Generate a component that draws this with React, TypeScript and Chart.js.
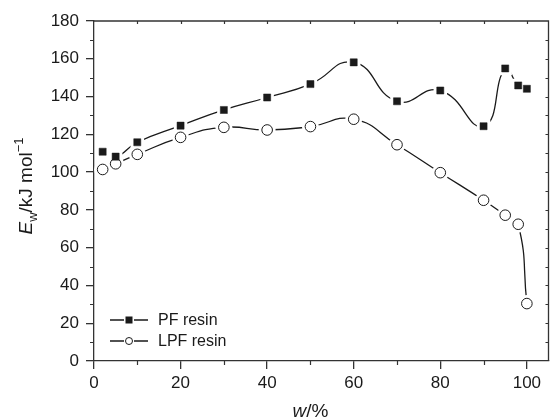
import React, { useEffect, useRef } from "react";
import { Chart, registerables } from "chart.js";

Chart.register(...registerables);

const wValues = [2, 5, 10, 20, 30, 40, 50, 60, 70, 80, 90, 95, 98, 100];
const pfResin = [110.8, 108.2, 115.8, 124.6, 132.9, 139.5, 146.6, 158.1, 137.5, 143.2, 124.3, 154.9, 145.9, 144.1];
const lpfResin = [101.4, 104.4, 109.4, 118.4, 123.7, 122.3, 124.1, 128.0, 114.5, 99.7, 85.1, 77.2, 72.4, 30.4];
const xTicks = [0, 20, 40, 60, 80, 100];
const yTicks = [0, 20, 40, 60, 80, 100, 120, 140, 160, 180];
const seriesNames = ["PF resin", "LPF resin"];

const FONT = "'Liberation Sans', Arial, Helvetica, sans-serif";
const INK = "#1a1a1a";
const AXIS = "#333";

function pts(ys: number[]) {
  return wValues.map((x, i) => ({ x, y: ys[i] }));
}

const decorPlugin = {
  id: "decor",
  afterDraw(chart: any) {
    const ctx = chart.ctx;
    const xs = chart.scales.x;
    const ys = chart.scales.y;
    const a = chart.chartArea;
    ctx.save();
    ctx.strokeStyle = AXIS;
    ctx.lineWidth = 1.3;
    ctx.beginPath();
    ctx.moveTo(a.left, a.top);
    ctx.lineTo(a.right, a.top);
    ctx.lineTo(a.right, a.bottom);
    ctx.stroke();
    ctx.lineWidth = 1.2;
    ctx.beginPath();
    for (let v = 10; v < 180; v += 20) {
      const y = Math.round(ys.getPixelForValue(v)) + 0.5;
      ctx.moveTo(a.left - 4, y);
      ctx.lineTo(a.left, y);
    }
    for (let v = 10; v < 100; v += 20) {
      const x = Math.round(xs.getPixelForValue(v)) + 0.5;
      ctx.moveTo(x, a.bottom);
      ctx.lineTo(x, a.bottom + 4);
    }
    for (let v = 10; v <= 100; v += 10) {
      const x = Math.round(xs.getPixelForValue(v)) + 0.5;
      ctx.moveTo(x, a.top);
      ctx.lineTo(x, a.top + 3);
    }
    for (let v = 10; v < 180; v += 10) {
      const y = Math.round(ys.getPixelForValue(v)) + 0.5;
      ctx.moveTo(a.right, y);
      ctx.lineTo(a.right - 3, y);
    }
    ctx.stroke();

    ctx.fillStyle = INK;
    ctx.textBaseline = "alphabetic";
    ctx.textAlign = "left";
    const parts = [
      { t: "E", f: `italic 19px ${FONT}`, dy: 0 },
      { t: "w", f: `13px ${FONT}`, dy: 5 },
      { t: "/kJ mol", f: `19px ${FONT}`, dy: 0 },
      { t: "\u22121", f: `13px ${FONT}`, dy: -9 },
    ];
    let total = 0;
    for (const p of parts) {
      ctx.font = p.f;
      total += ctx.measureText(p.t).width;
    }
    ctx.translate(32, (a.top + a.bottom) / 2 - 5);
    ctx.rotate(-Math.PI / 2);
    let cx = -total / 2;
    for (const p of parts) {
      ctx.font = p.f;
      ctx.fillText(p.t, cx, p.dy);
      cx += ctx.measureText(p.t).width;
    }
    ctx.setTransform(1, 0, 0, 1, 0, 0);

    const xc = (xs.getPixelForValue(0) + xs.getPixelForValue(100)) / 2;
    ctx.font = `italic 19px ${FONT}`;
    const w1 = ctx.measureText("w").width;
    ctx.font = `19px ${FONT}`;
    const w2 = ctx.measureText("/%").width;
    const sx = xc - (w1 + w2) / 2;
    ctx.font = `italic 19px ${FONT}`;
    ctx.fillText("w", sx, 417);
    ctx.font = `19px ${FONT}`;
    ctx.fillText("/%", sx + w1, 417);

    const rows = [320, 341];
    ctx.lineWidth = 1.3;
    ctx.strokeStyle = INK;
    rows.forEach((ry, i) => {
      ctx.beginPath();
      ctx.moveTo(110, ry);
      ctx.lineTo(124, ry);
      ctx.moveTo(134, ry);
      ctx.lineTo(148, ry);
      ctx.stroke();
      if (i === 0) {
        ctx.fillStyle = INK;
        ctx.fillRect(129 - 3.5, ry - 3.5, 7, 7);
      } else {
        ctx.beginPath();
        ctx.arc(129, ry, 3.5, 0, Math.PI * 2);
        ctx.fillStyle = "#fff";
        ctx.fill();
        ctx.lineWidth = 1;
        ctx.stroke();
        ctx.lineWidth = 1.3;
      }
      ctx.fillStyle = INK;
      ctx.font = `16px ${FONT}`;
      ctx.textBaseline = "middle";
      ctx.fillText(seriesNames[i], 158, ry + 1);
    });
    ctx.restore();
  },
};

export default function App() {
  const ref = useRef<HTMLCanvasElement | null>(null);
  useEffect(() => {
    if (!ref.current) return;
    const lineBase = {
      showLine: true,
      pointRadius: 0,
      pointHoverRadius: 0,
      tension: 0.5,
      borderColor: INK,
      borderWidth: 1.3,
      fill: false,
      order: 3,
    };
    const chart = new Chart(ref.current, {
      type: "scatter",
      data: {
        datasets: [
          { ...lineBase, label: seriesNames[0] + " line", data: pts(pfResin) },
          { ...lineBase, label: seriesNames[1] + " line", data: pts(lpfResin) },
          {
            label: "pf halo",
            data: pts(pfResin),
            showLine: false,
            pointStyle: "rect",
            pointRadius: 9.5,
            backgroundColor: "#fff",
            borderColor: "#fff",
            borderWidth: 0,
            order: 2,
          },
          {
            label: "lpf halo",
            data: pts(lpfResin),
            showLine: false,
            pointStyle: "circle",
            pointRadius: 8.5,
            backgroundColor: "#fff",
            borderColor: "#fff",
            borderWidth: 0,
            order: 2,
          },
          {
            label: seriesNames[0],
            data: pts(pfResin),
            showLine: false,
            pointStyle: "rect",
            pointRadius: 5,
            backgroundColor: INK,
            borderColor: INK,
            borderWidth: 0.5,
            order: 1,
          },
          {
            label: seriesNames[1],
            data: pts(lpfResin),
            showLine: false,
            pointStyle: "circle",
            pointRadius: 5.3,
            backgroundColor: "#fff",
            borderColor: INK,
            borderWidth: 1,
            order: 1,
          },
        ],
      },
      options: {
        animation: false,
        responsive: false,
        events: [],
        layout: { padding: { top: 21, right: 1, left: 0, bottom: 0 } },
        plugins: { legend: { display: false }, tooltip: { enabled: false } },
        scales: {
          x: {
            type: "linear",
            min: 0,
            max: 105,
            afterFit(scale: any) {
              scale.height = 59;
            },
            afterBuildTicks(scale: any) {
              scale.ticks = xTicks.map((v) => ({ value: v }));
            },
            ticks: {
              font: { family: FONT, size: 17 },
              color: INK,
              padding: 4,
              maxRotation: 0,
            },
            grid: { display: true, drawOnChartArea: false, drawTicks: true, tickLength: 8, color: AXIS, lineWidth: 1.3 },
            border: { display: true, color: AXIS, width: 1.3 },
          },
          y: {
            type: "linear",
            min: 0,
            max: 180,
            afterFit(scale: any) {
              scale.width = 94;
            },
            afterBuildTicks(scale: any) {
              scale.ticks = yTicks.map((v) => ({ value: v }));
            },
            ticks: {
              font: { family: FONT, size: 17 },
              color: INK,
              padding: 7,
            },
            grid: { display: true, drawOnChartArea: false, drawTicks: true, tickLength: 8, color: AXIS, lineWidth: 1.3 },
            border: { display: true, color: AXIS, width: 1.3 },
          },
        },
      },
      plugins: [decorPlugin],
    } as any);
    return () => chart.destroy();
  }, []);
  return (
    <div style={{ position: "fixed", left: 0, top: 0, width: 558, height: 420, background: "#fff" }}>
      <canvas ref={ref} width={558} height={420} />
    </div>
  );
}
